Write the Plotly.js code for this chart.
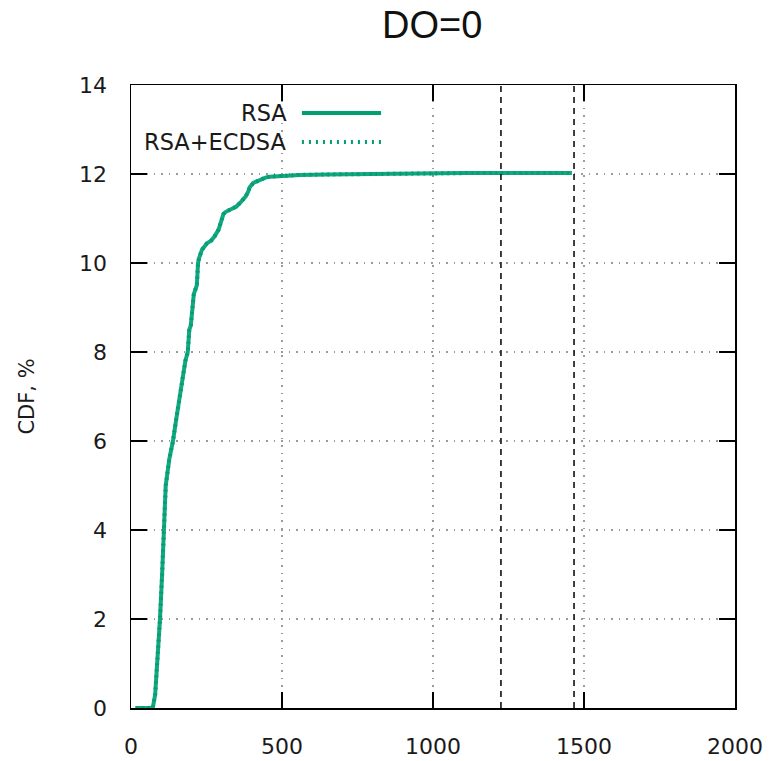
<!DOCTYPE html>
<html>
<head>
<meta charset="utf-8">
<script src="https://cdn.plot.ly/plotly-3.0.1.min.js"></script>
<style>html,body{margin:0;padding:0;background:#fff;}#chart{width:769px;height:761px;}</style>
</head>
<body>
<div id="chart"></div>
<script>
// Data
const titleText = "DO=0";
const yLabel = "CDF, %";
const seriesNames = ["RSA", "RSA+ECDSA"];
const rsaX = [15, 72, 80, 90, 96, 103, 109, 115, 127, 139, 150, 162, 172, 180, 188, 193, 198, 203, 208, 213, 218, 222, 225, 235, 251, 265, 277, 290, 298, 306, 314, 330, 349, 365, 380, 388, 393, 405, 426, 445, 459, 480, 502, 560, 650, 800, 900, 1100, 1300, 1460];
const rsaY = [0, 0, 0.3, 1.3, 2, 3, 4, 5, 5.6, 6, 6.5, 7, 7.5, 7.8, 8, 8.5, 8.6, 8.9, 9.3, 9.4, 9.5, 10, 10.1, 10.3, 10.44, 10.5, 10.6, 10.75, 10.9, 11.1, 11.15, 11.2, 11.27, 11.38, 11.5, 11.6, 11.7, 11.8, 11.87, 11.92, 11.94, 11.95, 11.96, 11.98, 11.99, 12.0, 12.02, 12.02, 12.02, 12.02];
const ecdsaX = [15, 72, 80, 90, 96, 103, 109, 115, 127, 139, 150, 162, 172, 180, 188, 193, 198, 203, 208, 213, 218, 222, 225, 235, 251, 265, 277, 290, 298, 306, 314, 330, 349, 365, 380, 388, 393, 405, 426, 445, 459, 480, 502, 560, 650, 800, 900, 1100, 1300, 1460];
const ecdsaY = [0, 0, 0.3, 1.3, 2, 3, 4, 5, 5.6, 6, 6.5, 7, 7.5, 7.8, 8, 8.5, 8.6, 8.9, 9.3, 9.4, 9.5, 10, 10.1, 10.3, 10.44, 10.5, 10.6, 10.75, 10.9, 11.1, 11.15, 11.2, 11.27, 11.38, 11.5, 11.6, 11.7, 11.8, 11.87, 11.92, 11.94, 11.95, 11.96, 11.98, 11.99, 12.0, 12.02, 12.02, 12.02, 12.02];
const xTicks = [0, 500, 1000, 1500, 2000];
const yTicks = [0, 2, 4, 6, 8, 10, 12, 14];
const markerLinesX = [1225, 1467];

const green = "#009e73";
const tickFont = {family: "DejaVu Sans", size: 22, color: "#1a1a1a"};

const traces = [
  {x: ecdsaX, y: ecdsaY, name: seriesNames[1], type: "scatter", mode: "lines",
   line: {color: green, width: 4, dash: "2px,4px"}, showlegend: false, hoverinfo: "skip"},
  {x: rsaX, y: rsaY, name: seriesNames[0], type: "scatter", mode: "lines",
   line: {color: green, width: 4}, opacity: 0.92, showlegend: false}
];

const shapes = markerLinesX.map(v => ({
  type: "line", xref: "x", yref: "paper", x0: v, x1: v, y0: 0, y1: 1,
  line: {color: "#000", width: 1.5, dash: "6px,5px"}, layer: "above"
}));
// legend samples (gnuplot-style: text on the left, sample on the right)
const legY = [0.955, 0.9085];
shapes.push({type: "line", xref: "paper", yref: "paper", x0: 0.283, x1: 0.414, y0: legY[0], y1: legY[0], line: {color: green, width: 4}});
shapes.push({type: "line", xref: "paper", yref: "paper", x0: 0.283, x1: 0.414, y0: legY[1], y1: legY[1], line: {color: green, width: 4, dash: "2px,5px"}});

const annotations = seriesNames.map((n, i) => ({
  text: n, xref: "paper", yref: "paper", x: 0.262, y: legY[i], xanchor: "right", yanchor: "middle",
  showarrow: false, font: {family: "DejaVu Sans", size: 22.5, color: "#1a1a1a"}
}));

const axisCommon = {
  showline: true, linecolor: "#000", linewidth: 1.5, mirror: "ticks",
  ticks: "inside", ticklen: 16, tickwidth: 1.5, tickcolor: "#000",
  showgrid: true, gridcolor: "#9a9a9a", gridwidth: 1.2, griddash: "1.5px,6px",
  zeroline: false, tickfont: tickFont, ticklabelstandoff: 18
};

const layout = {
  width: 769, height: 761,
  margin: {l: 131, r: 34, t: 85, b: 53},
  paper_bgcolor: "#fff", plot_bgcolor: "#fff",
  title: {text: titleText, font: {family: "Liberation Sans", size: 38, color: "#111"}, x: 0.562, xanchor: "center", y: 0.967, yanchor: "middle"},
  xaxis: Object.assign({}, axisCommon, {range: [0, 2000], tickvals: xTicks, ticktext: xTicks.map(String)}),
  yaxis: Object.assign({}, axisCommon, {range: [0, 14], tickvals: yTicks, ticktext: yTicks.map(String),
    title: {text: yLabel, font: {family: "DejaVu Sans", size: 21, color: "#1a1a1a"}, standoff: 38}}),
  shapes: shapes,
  annotations: annotations,
  showlegend: false
};

Plotly.newPlot("chart", traces, layout, {displayModeBar: false, staticPlot: true});
</script>
</body>
</html>
